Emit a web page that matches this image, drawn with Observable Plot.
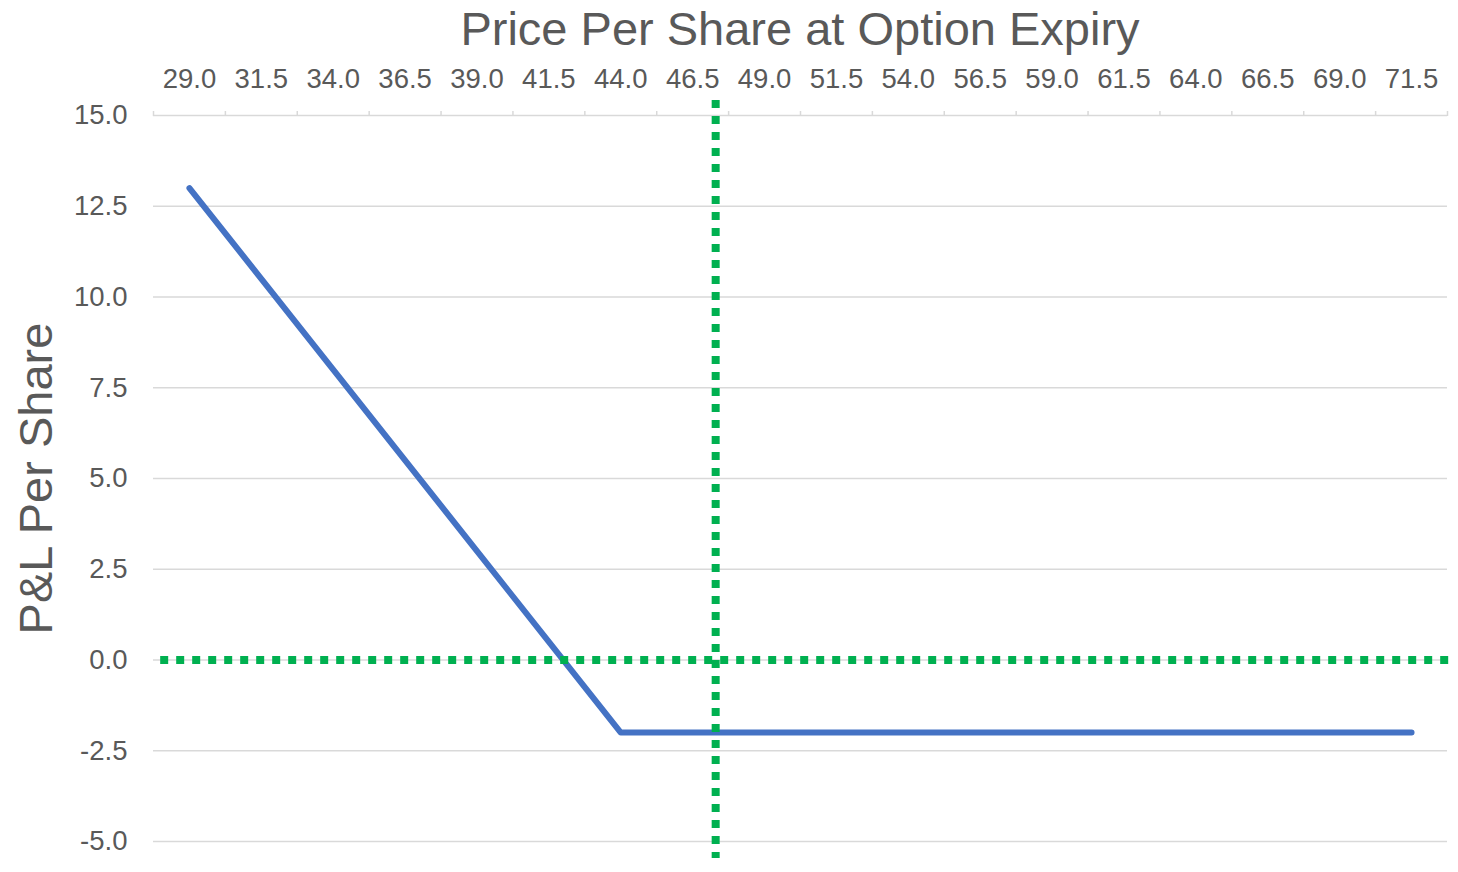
<!DOCTYPE html>
<html>
<head>
<meta charset="utf-8">
<script src="https://cdn.jsdelivr.net/npm/d3@7"></script>
<script src="https://cdn.jsdelivr.net/npm/@observablehq/plot@0.6"></script>
<style>
  html, body { margin: 0; padding: 0; background: #fff; }
  body { width: 1458px; height: 872px; overflow: hidden; font-family: "Liberation Sans", Arial, sans-serif; }
  #title { position: relative; height: 60px; width: 1458px; }
  #title span { position: absolute; left: 800px; top: 2px; transform: translateX(-50%); font-size: 47px; color: #595959; white-space: nowrap; line-height: 54px; }
  #chart svg { display: block; }
</style>
</head>
<body>
<div id="title"><span>Price Per Share at Option Expiry</span></div>
<div id="chart"></div>
<script>
// Data
const priceLabels = [29.0, 31.5, 34.0, 36.5, 39.0, 41.5, 44.0, 46.5, 49.0, 51.5, 54.0, 56.5, 59.0, 61.5, 64.0, 66.5, 69.0, 71.5];
const pnl = [13.0, 10.5, 8.0, 5.5, 3.0, 0.5, -2.0, -2.0, -2.0, -2.0, -2.0, -2.0, -2.0, -2.0, -2.0, -2.0, -2.0, -2.0];
const yTicks = [-5.0, -2.5, 0.0, 2.5, 5.0, 7.5, 10.0, 12.5, 15.0];
const currentPrice = 47.3;       // vertical reference line
const breakEvenLevel = 0;        // horizontal reference line
const yTitle = "P&L Per Share";

const series = priceLabels.map((p, i) => ({price: p, pnl: pnl[i]}));
const step = priceLabels[1] - priceLabels[0];
const boundaries = [priceLabels[0] - step / 2, ...priceLabels.map(p => p + step / 2)];
const xDomain = [boundaries[0], boundaries[boundaries.length - 1]];

const chart = Plot.plot({
  width: 1458,
  height: 812,
  marginLeft: 153,
  marginRight: 11,
  marginTop: 55,
  marginBottom: 31,
  style: {fontFamily: '"Liberation Sans", Arial, sans-serif', color: "#595959", background: "#fff", overflow: "visible"},
  x: {domain: xDomain},
  y: {domain: [-5, 15]},
  marks: [
    Plot.ruleY(yTicks, {stroke: "#d9d9d9", strokeWidth: 1.5}),
    Plot.axisX(boundaries, {anchor: "top", tickSize: 5, tickFormat: () => "", stroke: "#d9d9d9", strokeWidth: 1.5, label: null}),
    Plot.axisX(priceLabels, {anchor: "top", tickSize: 0, tickPadding: 28, tickFormat: d => d.toFixed(1), fontSize: 27.5, label: null}),
    Plot.axisY(yTicks, {anchor: "left", tickSize: 0, tickPadding: 26, tickFormat: d => d.toFixed(1), fontSize: 27.5, label: null}),
    Plot.text([yTitle], {frameAnchor: "left", textAnchor: "middle", dx: -117, rotate: -90, fontSize: 47, fill: "#595959"}),
    Plot.line(series, {x: "price", y: "pnl", stroke: "#4472c4", strokeWidth: 6, strokeLinecap: "round", strokeLinejoin: "round"}),
    Plot.ruleY([breakEvenLevel], {x1: 28.0, x2: 72.85, stroke: "#00b050", strokeWidth: 8, strokeDasharray: "8,8"}),
    Plot.ruleX([currentPrice], {y1: 15.41, y2: -5.47, stroke: "#00b050", strokeWidth: 8, strokeDasharray: "8,8"})
  ]
});
document.getElementById("chart").appendChild(chart);
</script>
</body>
</html>
